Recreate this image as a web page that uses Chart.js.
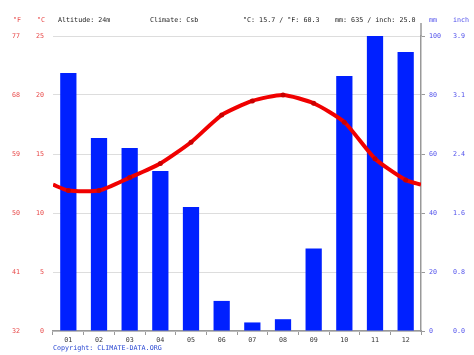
<!DOCTYPE html>
<html>
<head>
<meta charset="utf-8">
<script src="https://cdn.jsdelivr.net/npm/chart.js@4"></script>
<style>
html,body{margin:0;padding:0;background:#fff;}
#wrap{width:474px;height:355px;position:relative;}
</style>
</head>
<body>
<div id="wrap"><canvas id="c" width="474" height="355"></canvas></div>
<script>
const months = ['01','02','03','04','05','06','07','08','09','10','11','12'];
const precipMM = [87.5, 65.4, 62, 54.2, 42, 10.2, 2.9, 4.0, 28, 86.4, 100, 94.6];
const tempC = [11.9, 11.9, 13.0, 14.2, 16.0, 18.3, 19.5, 20.0, 19.3, 17.7, 14.6, 12.8];
const tempEdgeLeft = 12.4;
const tempEdgeRight = 12.4;
const tempTicksC = [0, 5, 10, 15, 20, 25];
const precipTicksMM = [0, 20, 40, 60, 80, 100];
const headerTexts = ['Altitude: 24m', 'Climate: Csb', '°C: 15.7 / °F: 60.3', 'mm: 635 / inch: 25.0'];
const copyrightText = 'Copyright: CLIMATE-DATA.ORG';

const MONO = '"DejaVu Sans Mono", "Liberation Mono", monospace';
const RED_TXT = 'rgb(232,72,72)';
const BLUE_TXT = 'rgb(80,80,235)';

const linePoints = [{x: 0.5, y: tempEdgeLeft}]
  .concat(tempC.map((v, i) => ({x: i + 1, y: v})))
  .concat([{x: 12.5, y: tempEdgeRight}]);
const pointR = linePoints.map((p, i) => (i === 0 || i === linePoints.length - 1) ? 0 : 2.5);

const overlay = {
  id: 'overlay',
  afterDraw(chart) {
    const ctx = chart.ctx;
    const ca = chart.chartArea;
    ctx.save();
    ctx.font = '6.7px ' + MONO;
    ctx.textBaseline = 'middle';
    ctx.textAlign = 'left';
    ctx.fillStyle = RED_TXT;
    ctx.fillText('°F', 13, 20.5);
    ctx.fillText('°C', 37, 20.5);
    ctx.fillStyle = '#222';
    const xs = [58, 150, 243, 335];
    headerTexts.forEach((t, i) => ctx.fillText(t, xs[i], 20.5));
    ctx.fillStyle = BLUE_TXT;
    ctx.fillText('mm', 429, 20.5);
    ctx.fillText('inch', 453, 20.5);
    ctx.fillStyle = 'rgb(40,70,210)';
    ctx.fillText(copyrightText, 53, 348);
    ctx.strokeStyle = '#999';
    ctx.lineWidth = 1.5;
    ctx.beginPath();
    ctx.moveTo(ca.right, ca.top - 13);
    ctx.lineTo(ca.right, ca.top);
    ctx.stroke();
    ctx.restore();
  }
};

new Chart(document.getElementById('c'), {
  type: 'bar',
  data: {
    labels: months,
    datasets: [
      {
        type: 'line',
        data: linePoints,
        xAxisID: 'xl',
        yAxisID: 'yC',
        borderColor: 'rgb(240,0,0)',
        borderWidth: 4,
        pointRadius: pointR,
        pointBackgroundColor: 'rgb(200,0,0)',
        pointBorderWidth: 0,
        tension: 0.2,
        order: 0
      },
      {
        type: 'bar',
        data: precipMM,
        xAxisID: 'x',
        yAxisID: 'yMM',
        backgroundColor: 'rgb(0,32,255)',
        barPercentage: 0.53,
        categoryPercentage: 1,
        grouped: false,
        order: 1
      }
    ]
  },
  options: {
    responsive: false,
    animation: false,
    devicePixelRatio: 1,
    layout: {padding: {top: 36, left: 0, right: 0, bottom: 0}},
    plugins: {legend: {display: false}, tooltip: {enabled: false}},
    scales: {
      x: {
        type: 'category',
        offset: true,
        grid: {drawOnChartArea: false, drawTicks: true, tickLength: 4, color: '#999', offset: true},
        border: {display: true, color: '#999', width: 1.5},
        ticks: {font: {family: MONO, size: 6.7}, color: '#333', padding: 1, maxRotation: 0},
        afterFit(s) { s.height = 24; }
      },
      xl: {
        type: 'linear',
        display: false,
        offset: false,
        min: 0.5,
        max: 12.5
      },
      yC: {
        position: 'left',
        weight: 1,
        min: 0,
        max: 25,
        afterBuildTicks(s) { s.ticks = tempTicksC.map(v => ({value: v})); },
        grid: {color: '#ddd', drawTicks: false, lineWidth: 1},
        border: {display: false},
        ticks: {font: {family: MONO, size: 6.7}, color: RED_TXT, padding: 9},
        afterFit(s) { s.width = 29; }
      },
      yF: {
        position: 'left',
        weight: 2,
        min: 0,
        max: 25,
        afterBuildTicks(s) { s.ticks = tempTicksC.map(v => ({value: v})); },
        grid: {display: false, drawTicks: false},
        border: {display: false},
        ticks: {font: {family: MONO, size: 6.7}, color: RED_TXT, padding: 4,
          callback: v => String(Math.round(v * 9 / 5 + 32))},
        afterFit(s) { s.width = 24; }
      },
      yMM: {
        position: 'right',
        weight: 1,
        min: 0,
        max: 100,
        afterBuildTicks(s) { s.ticks = precipTicksMM.map(v => ({value: v})); },
        grid: {drawOnChartArea: false, drawTicks: true, tickLength: 4, color: '#999'},
        border: {display: true, color: '#999', width: 1.5},
        ticks: {font: {family: MONO, size: 6.7}, color: BLUE_TXT, padding: 4},
        afterFit(s) { s.width = 28; }
      },
      yIN: {
        position: 'right',
        weight: 2,
        min: 0,
        max: 100,
        afterBuildTicks(s) { s.ticks = precipTicksMM.map(v => ({value: v})); },
        grid: {display: false, drawTicks: false},
        border: {display: false},
        ticks: {font: {family: MONO, size: 6.7}, color: BLUE_TXT, padding: 4,
          callback: v => (v / 25.4).toFixed(1)},
        afterFit(s) { s.width = 25; }
      }
    }
  },
  plugins: [overlay]
});
</script>
</body>
</html>
